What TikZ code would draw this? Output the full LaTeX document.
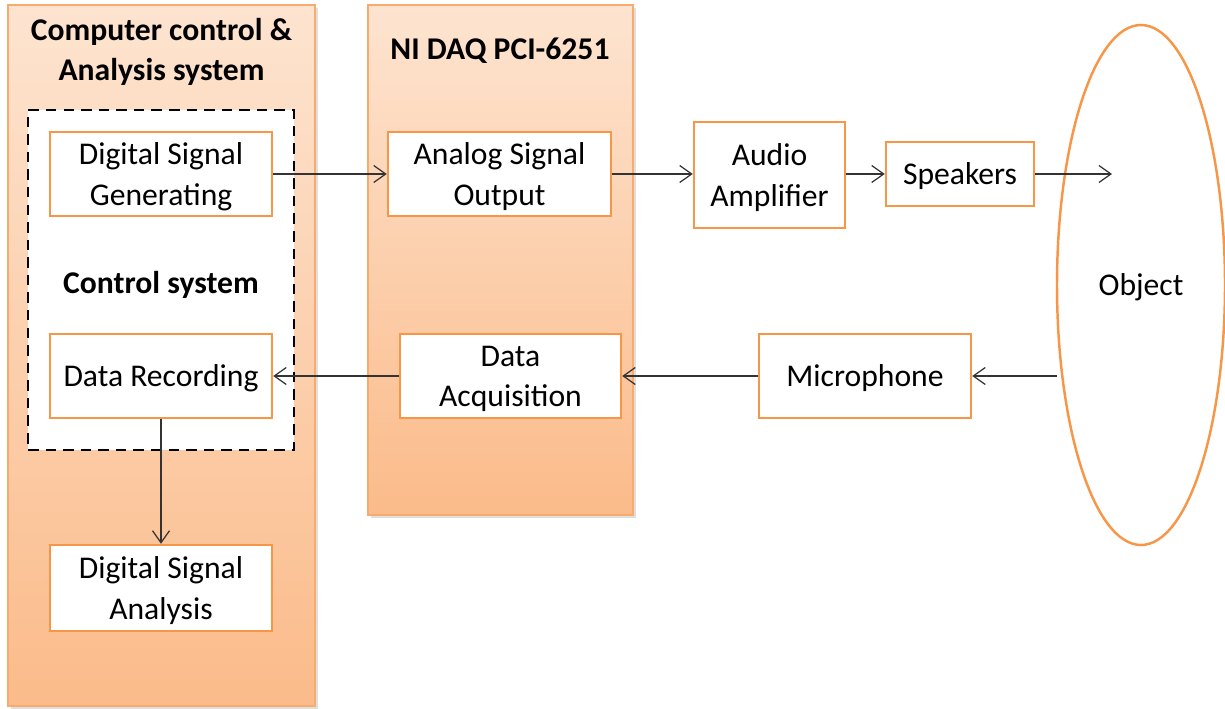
\documentclass[tikz,border=0pt]{standalone}
\usepackage{fontspec}
\setmainfont{Carlito}
\usepackage{xcolor}
\usetikzlibrary{positioning}
\usetikzlibrary{shapes.geometric}
\usetikzlibrary{arrows.meta}
\usetikzlibrary{shadows}
\definecolor{boxorange}{HTML}{F79646}
\definecolor{paneltop}{HTML}{FDE4D0}
\definecolor{panelbot}{HTML}{FBBB8A}
\tikzset{>={Straight Barb[length=2.4mm,width=3.4mm]}}

\begin{document}
\begin{tikzpicture}
	[font=\fontsize{18}{22.8}\selectfont,
	panel/.style={rectangle,draw=boxorange!80,line width=0.6pt,top color=paneltop,bottom color=panelbot,
		drop shadow={shadow xshift=0.6mm,shadow yshift=-0.6mm,opacity=0.25}},
	block/.style={rectangle,draw=boxorange,fill=white,line width=1.4pt,align=center,inner sep=0pt,
		text depth=0pt},
	title/.style={align=center,font=\fontsize{18}{22.6}\selectfont\bfseries},
	link/.style={->,draw=black!80,line width=0.7pt}]
	\useasboundingbox (0,0) rectangle (24.5,14.16);
	% the two hardware panels
	\node [panel,minimum width=6.14cm,minimum height=14.02cm] (pc) at (3.23,7.05) {};
	\node [panel,minimum width=5.3cm,minimum height=10.2cm] (daq) at (10.01,8.96) {};
	\node [title] (pctitle) at (3.23,13.12) {Computer control \&\\Analysis system};
	\node [title] (daqtitle) at (10.0,13.14) {NI DAQ PCI-6251};
	% control system
	\node [rectangle,draw=black,fill=white,line width=1.7pt,dash pattern=on 6pt off 4pt,
		minimum width=5.32cm,minimum height=6.8cm] (ctrl) at (3.22,8.56) {};
	\node [title] (ctrltitle) at (3.22,8.46) {Control system};
	\node [block,minimum width=4.44cm,minimum height=1.68cm] (gen) at (3.22,10.68) {Digital Signal\\Generating};
	\node [block,minimum width=4.44cm,minimum height=1.68cm] (rec) at (3.22,6.64) {Data Recording};
	\node [block,minimum width=4.44cm,minimum height=1.72cm] (ana) at (3.22,2.4) {Digital Signal\\Analysis};
	% daq card
	\node [block,minimum width=4.46cm,minimum height=1.68cm] (out) at (9.99,10.68) {Analog Signal\\Output};
	\node [block,minimum width=4.42cm,minimum height=1.68cm] (acq) at (10.21,6.64) {Data\\Acquisition};
	% sound path
	\node [block,minimum width=3.02cm,minimum height=2.12cm] (amp) at (15.39,10.66) {Audio\\Amplifier};
	\node [block,minimum width=2.96cm,minimum height=1.28cm] (spk) at (19.2,10.68) {Speakers};
	\node [block,minimum width=4.24cm,minimum height=1.68cm] (mic) at (17.3,6.64) {Microphone};
	\node [ellipse,draw=boxorange,line width=1.4pt,minimum width=3.36cm,minimum height=10.4cm,inner sep=0pt,
		text depth=0pt] (obj) at (22.82,8.46) {Object};
	\coordinate (sound) at (22.24,10.68);
	\coordinate (echo) at (21.14,6.64);
	% connections
	\draw [link] (gen.east) -- (out.west);
	\draw [link] (out.east) -- (amp.west |- out.east);
	\draw [link] (amp.east |- spk.west) -- (spk.west);
	\draw [link] (spk.east) -- (sound);
	\draw [link] (echo) -- (mic.east);
	\draw [link] (mic.west) -- (acq.east);
	\draw [link] (acq.west) -- (rec.east);
	\draw [link] (rec.south) -- (ana.north);
\end{tikzpicture}
\end{document}
